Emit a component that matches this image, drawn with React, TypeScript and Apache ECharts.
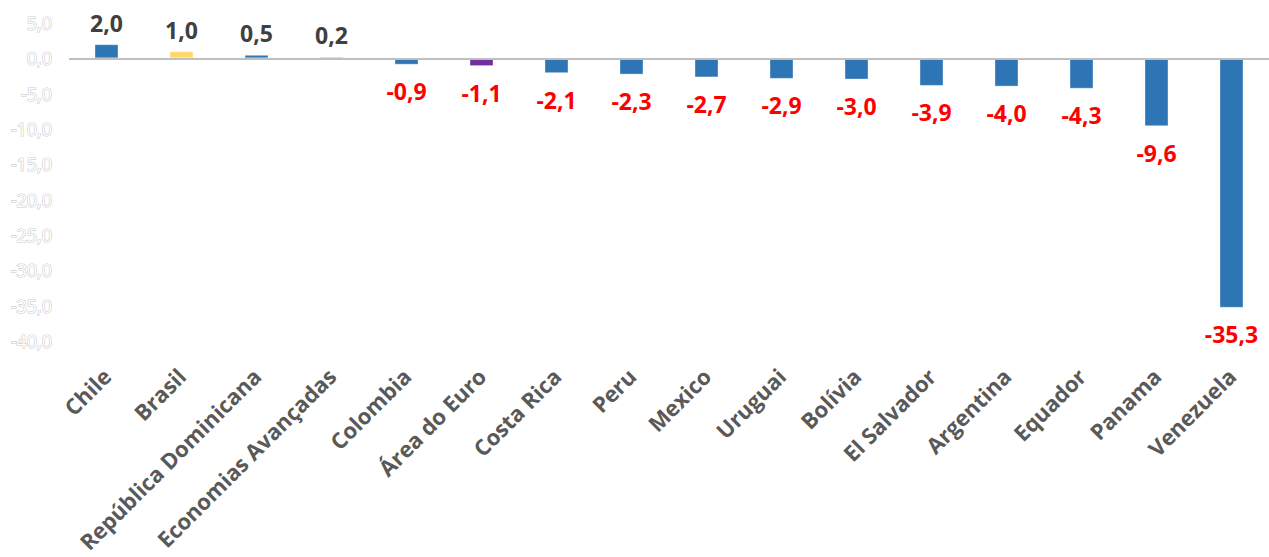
import React, { useEffect, useRef } from "react";
import * as echarts from "echarts";

const categories = [
  "Chile",
  "Brasil",
  "República Dominicana",
  "Economias Avançadas",
  "Colombia",
  "Área do Euro",
  "Costa Rica",
  "Peru",
  "Mexico",
  "Uruguai",
  "Bolívia",
  "El Salvador",
  "Argentina",
  "Equador",
  "Panama",
  "Venezuela",
];
const values = [2.0, 1.0, 0.5, 0.2, -0.9, -1.1, -2.1, -2.3, -2.7, -2.9, -3.0, -3.9, -4.0, -4.3, -9.6, -35.3];
const barColors: Record<string, string> = {
  Brasil: "#FFD966",
  "Área do Euro": "#7030A0",
};
const yMin = -40;
const yMax = 5;
const yStep = 5;

const FONT = "'Open Sans', sans-serif";

export default function App() {
  const ref = useRef<HTMLDivElement>(null);
  useEffect(() => {
    if (!ref.current) return;
    const chart = echarts.init(ref.current, null, { renderer: "svg" });
    const data = values.map((v, i) => {
      const neg = v < 0;
      return {
        value: v,
        itemStyle: { color: barColors[categories[i]] || "#2E75B6" },
        label: {
          position: neg ? "bottom" : "top",
          distance: neg ? 15 : 10,
          color: neg ? "#FF0000" : "#404040",
        },
      };
    });
    chart.setOption({
      animation: false,
      backgroundColor: "#ffffff",
      grid: { left: 69, top: 23, width: 1200, height: 318, containLabel: false },
      xAxis: {
        type: "category",
        data: categories,
        axisLine: { show: false, onZero: false },
        axisTick: { show: false },
        axisLabel: {
          rotate: 45,
          interval: 0,
          margin: 31,
          color: "#595959",
          fontFamily: FONT,
          fontWeight: "bold",
          fontSize: 22,
        },
      },
      yAxis: {
        type: "value",
        min: yMin,
        max: yMax,
        interval: yStep,
        splitLine: { show: false },
        axisLine: { show: false },
        axisTick: { show: false },
        axisLabel: {
          margin: 17,
          color: "#ffffff",
          textBorderColor: "#CCCCCC",
          textBorderWidth: 1.2,
          fontFamily: FONT,
          fontSize: 18,
          formatter: (v: number) => v.toFixed(1).replace(".", ","),
        },
      },
      series: [
        {
          type: "bar",
          data,
          barWidth: 24,
          itemStyle: { borderColor: "rgba(255,255,255,0.35)", borderWidth: 1 },
          label: {
            show: true,
            fontFamily: FONT,
            fontWeight: "bold",
            fontSize: 23,
            formatter: (p: any) => Number(p.value).toFixed(1).replace(".", ","),
          },
          markLine: {
            silent: true,
            symbol: "none",
            label: { show: false },
            lineStyle: { color: "#BFBFBF", width: 2, type: "solid" },
            data: [{ yAxis: 0 }],
          },
        },
      ],
    });
    return () => chart.dispose();
  }, []);
  return (
    <div
      ref={ref}
      style={{ position: "absolute", left: 0, top: 0, width: 1269, height: 557, background: "#fff" }}
    />
  );
}
